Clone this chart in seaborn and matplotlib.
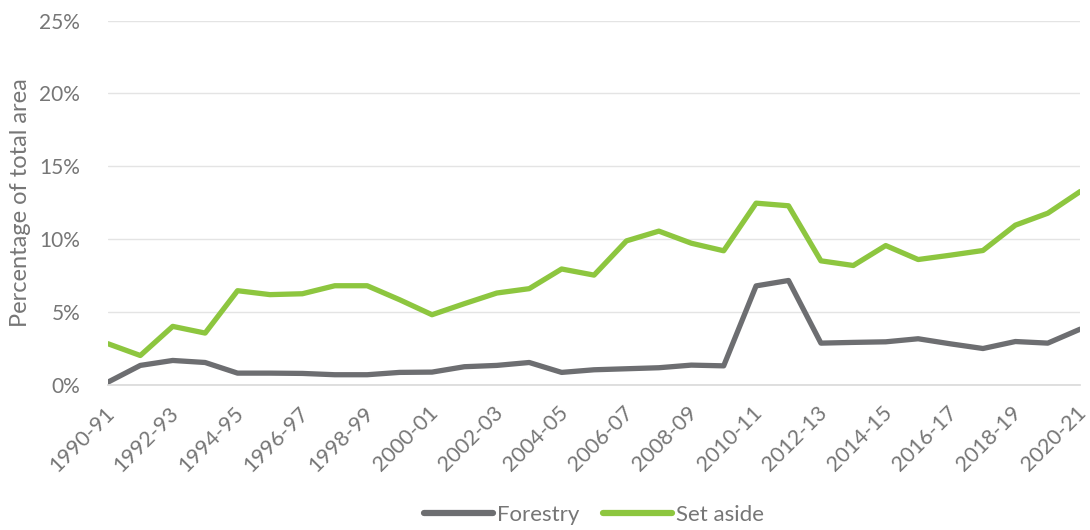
import matplotlib
matplotlib.use("Agg")
import matplotlib.pyplot as plt
import matplotlib.transforms as mtransforms
import pandas as pd
import seaborn as sns
from matplotlib.ticker import PercentFormatter

# Financial years shown on the x axis
years = [f"{y}-{str(y + 1)[-2:]}" for y in range(1990, 2021)]

# Values (% of total area)
forestry = [0.18, 1.33, 1.67, 1.53, 0.80, 0.80, 0.78, 0.69, 0.69, 0.85,
            0.87, 1.24, 1.33, 1.53, 0.85, 1.03, 1.10, 1.17, 1.35, 1.30,
            6.79, 7.16, 2.86, 2.91, 2.95, 3.16, 2.81, 2.49, 2.97, 2.86, 3.82]
set_aside = [2.82, 2.01, 4.01, 3.55, 6.46, 6.19, 6.25, 6.80, 6.80, 5.84,
             4.81, 5.57, 6.30, 6.60, 7.95, 7.53, 9.88, 10.55, 9.72, 9.20,
             12.47, 12.29, 8.51, 8.19, 9.56, 8.60, 8.90, 9.22, 10.96, 11.78, 13.27]

series_names = ["Forestry", "Set aside"]
colors = ["#6d6e71", "#8dc63f"]

df = pd.DataFrame({
    "year": years * 2,
    "value": forestry + set_aside,
    "series": [series_names[0]] * len(years) + [series_names[1]] * len(years),
})
df["x"] = df.groupby("series").cumcount()

sns.set_style("white")
plt.rcParams["font.family"] = ["Lato", "DejaVu Sans"]
text_col = "#767676"

fig, ax = plt.subplots(figsize=(10.9, 5.3), dpi=100)
fig.subplots_adjust(left=0.099, right=0.991, top=0.961, bottom=0.274)

sns.lineplot(data=df, x="x", y="value", hue="series", palette=colors,
             linewidth=3.8, ax=ax, legend=True)
for line in ax.lines:
    line.set_solid_joinstyle("round")
    line.set_solid_capstyle("round")

ax.set_xlim(0, len(years) - 1)
ax.set_ylim(0, 25)
ax.set_yticks(range(0, 26, 5))
ax.yaxis.set_major_formatter(PercentFormatter(decimals=0))
ax.grid(axis="y", color="#e4e4e4", linewidth=1)
ax.set_axisbelow(True)

ax.set_xticks(range(len(years)))
ax.set_xticklabels([y if i % 2 == 0 else "" for i, y in enumerate(years)],
                   rotation=45, ha="right", rotation_mode="anchor")
ax.tick_params(axis="x", length=8, width=1, color="#d9d9d9", pad=5,
               labelsize=15.5, labelcolor=text_col)
ax.tick_params(axis="y", length=0, pad=20, labelsize=15, labelcolor=text_col)

# nudge the rotated year labels a little left so the last one fits
shift = mtransforms.ScaledTranslation(-4 / 100, 0, fig.dpi_scale_trans)
for lab in ax.get_xticklabels():
    lab.set_transform(lab.get_transform() + shift)

for s in ["top", "right", "left"]:
    ax.spines[s].set_visible(False)
ax.spines["bottom"].set_color("#d9d9d9")
ax.spines["bottom"].set_linewidth(1.2)

ax.set_xlabel("")
ax.set_ylabel("Percentage of total area", fontsize=17, color=text_col, labelpad=6)

handles, labels = ax.get_legend_handles_labels()
for h in handles:
    h.set_linewidth(4.5)
ax.legend(handles, labels, loc="center", bbox_to_anchor=(0.5, -0.357),
          ncol=2, frameon=False, fontsize=16, labelcolor=text_col,
          handlelength=3.1, handletextpad=0.15, columnspacing=1.1)

fig.savefig("out.png", dpi=100)
